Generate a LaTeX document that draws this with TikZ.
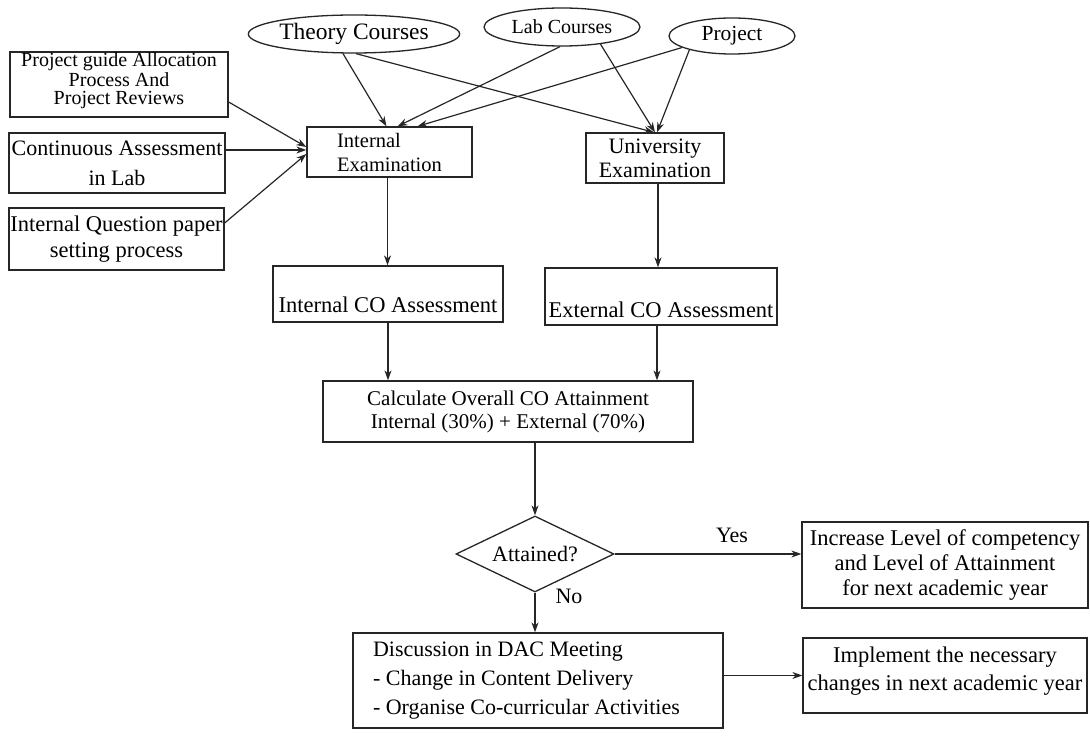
\documentclass[tikz,border=0pt]{standalone}
\usepackage{fontspec}
\setmainfont{Liberation Serif}
\usetikzlibrary{shapes.geometric,arrows.meta}
\begin{document}
\begin{tikzpicture}[x=1pt,y=-1pt,
  ink/.style={draw=black!85},
  box/.style={ink, line width=1.3pt, inner sep=0pt, align=center, font=\fontsize{22.5}{25}\selectfont},
  oval/.style={ellipse, ink, line width=1.3pt, inner sep=0pt, font=\fontsize{21.5}{24}\selectfont},
  arr/.style={draw=black!85, line width=1.2pt, -{Stealth[length=10pt,width=7pt]}},
  lbl/.style={inner sep=0pt, font=\fontsize{22}{24}\selectfont}]
\useasboundingbox (0,0) rectangle (1090,743);

% ovals
\node[oval, minimum width=200pt, minimum height=38pt, font=\fontsize{23.5}{24}\selectfont] (theory) at (354,34) {Theory Courses};
\node[oval, minimum width=156pt, minimum height=38pt, font=\fontsize{20}{24}\selectfont] (lab) at (562,27) {Lab Courses};
\node[oval, minimum width=126pt, minimum height=36pt] (proj) at (732,36) {Project};

% left boxes
\node[box, minimum width=218pt, minimum height=65pt, font=\fontsize{20}{18}\selectfont] (pg) at (119,84.5) {Project guide Allocation\\Process And\\Project Reviews\\[-6pt]\mbox{}};
\node[box, minimum width=216pt, minimum height=60pt, font=\fontsize{22}{30}\selectfont] (ca) at (117,163) {Continuous Assessment\\in Lab};
\node[box, minimum width=215pt, minimum height=62pt, font=\fontsize{22.5}{26}\selectfont] (iq) at (116.5,239) {Internal Question paper\\setting process};

% examinations
\node[box, minimum width=165pt, minimum height=50pt, align=left, font=\fontsize{20.5}{24}\selectfont] (ie) at (389.5,152) {Internal\\Examination};
\node[box, minimum width=138pt, minimum height=50pt, font=\fontsize{22}{24}\selectfont] (ue) at (655,158) {University\\Examination};

% CO assessments
\node[box, minimum width=230pt, text height=47pt, text depth=9pt] (ico) at (388,294) {Internal CO Assessment};
\node[box, minimum width=232pt, text height=50pt, text depth=7pt] (eco) at (661,296.5) {External CO Assessment};

% calculation
\node[box, minimum width=370pt, minimum height=61pt, font=\fontsize{21}{23}\selectfont] (calc) at (508,411.5) {Calculate Overall CO Attainment\\Internal (30\%) + External (70\%)};

% decision
\node[diamond, aspect=2.08, ink, line width=1.3pt, inner sep=0pt, minimum width=158pt, minimum height=76pt, font=\fontsize{22}{24}\selectfont] (att) at (535,554) {Attained?};

% outcomes
\node[box, minimum width=286pt, minimum height=86pt] (inc) at (945,565) {Increase Level of competency\\and Level of Attainment\\for next academic year};
\node[box, minimum width=370pt, minimum height=95pt, text width=330pt, align=flush left, font=\fontsize{22}{29}\selectfont] (dac) at (538,680.5) {Discussion in DAC Meeting\\- Change in Content Delivery\\- Organise Co-curricular Activities};
\node[box, minimum width=284pt, minimum height=75pt, font=\fontsize{22.5}{28}\selectfont] (impl) at (945,675.5) {Implement the necessary\\changes in next academic year\\[-14pt]\mbox{}};

% labels
\node[lbl] (yes) at (732,535) {Yes};
\node[lbl] (no) at (569,596) {No};

% arrows from ovals
\draw[arr] ([xshift=-11pt]theory.south) -- ([xshift=-3pt]ie.north);
\draw[arr] ([xshift=2pt]theory.south) -- ([xshift=-1pt]ue.north);
\draw[arr] ([xshift=-2pt]lab.south) -- ([xshift=8pt]ie.north);
\draw[arr] (lab.-24) -- ([xshift=0pt]ue.north);
\draw[arr] (proj.193) -- ([xshift=28pt]ie.north);
\draw[arr] (proj.198) -- ([xshift=2pt]ue.north);

% arrows from left boxes
\draw[arr] ([yshift=-17.5pt]pg.east) -- ([yshift=5pt]ie.west);
\draw[arr] ([yshift=13pt]ca.east) -- ([yshift=2pt]ie.west);
\draw[arr] ([yshift=16pt]iq.east) -- ([yshift=-2pt]ie.west);

% vertical flow
\draw[arr] ([xshift=-2pt]ie.south) -- ([xshift=-2pt]ie.south |- ico.north);
\draw[arr] ([xshift=3pt]ue.south) -- ([xshift=3pt]ue.south |- eco.north);
\draw[arr] (ico.south) -- (ico.south |- calc.north);
\draw[arr] ([xshift=-4pt]eco.south) -- ([xshift=-4pt]eco.south |- calc.north);
\draw[arr] (att.north |- calc.south) -- (att.north);
\draw[arr] (att.east) -- (att.east -| inc.west);
\draw[arr] (att.south) -- (att.south |- dac.north);
\draw[arr] (dac.east |- impl.west) -- (impl.west);
\end{tikzpicture}
\end{document}
